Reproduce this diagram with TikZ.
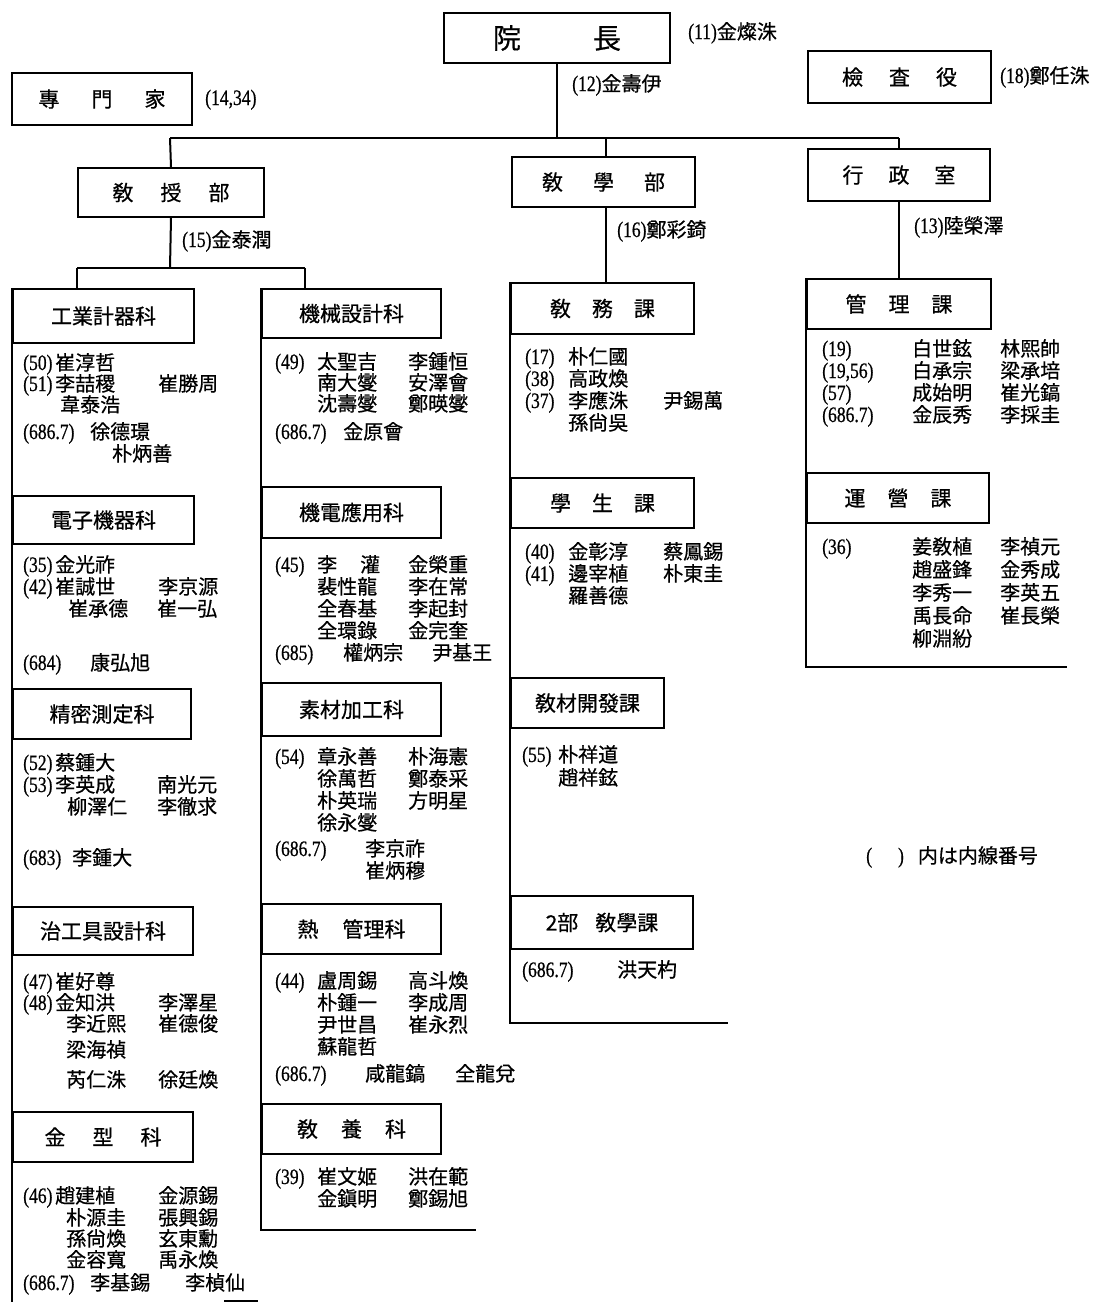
\documentclass[tikz,border=0pt]{standalone}
\usepackage{fontspec}
\setmainfont{Liberation Serif}
\newfontfamily\cjk{Noto Sans CJK JP}[FakeBold=0.6]
\newfontfamily\numf{Liberation Serif}[FakeStretch=0.8,FakeBold=0.6]
\newcounter{tn}
\newcommand\lab[3]{\stepcounter{tn}\node[lbl] (l\arabic{tn}) at (#1,{#2+7}) {#3};}
\newcommand\nm[3]{\stepcounter{tn}\node[nmt] (n\arabic{tn}) at (#1,{#2+7}) {#3};}
\newcommand\cj[1]{{\cjk\fontsize{20}{22}\selectfont #1}}
\begin{document}
\begin{tikzpicture}[x=1pt,y=-1pt,
  ln/.style={line width=2pt},
  ubox/.style={draw,line width=2pt,inner sep=0pt,anchor=north west,font=\cjk\fontsize{21}{24}\selectfont},
  lbl/.style={anchor=base west,inner sep=0pt,font=\numf\fontsize{22}{24}\selectfont},
  nmt/.style={anchor=base west,inner sep=0pt,font=\cjk\fontsize{20}{22}\selectfont}]
\useasboundingbox[fill=white] (0,0) rectangle (1119,1304);

% ---- top level boxes
\node[ubox,minimum width=226pt,minimum height=50pt,font=\cjk\fontsize{28}{30}\selectfont] (inch) at (443,12) {院\hspace{72pt}長};
\node[ubox,minimum width=180pt,minimum height=52pt] (senmon) at (11,72) {專\hspace{32pt}門\hspace{32pt}家};
\node[ubox,minimum width=183pt,minimum height=52pt] (kensa) at (807,50) {檢\hspace{26pt}査\hspace{26pt}役};
\node[ubox,minimum width=186pt,minimum height=49pt] (kyosu) at (77,167) {敎\hspace{27pt}授\hspace{27pt}部};
\node[ubox,minimum width=183pt,minimum height=50pt] (kyohak) at (511,156) {敎\hspace{30pt}學\hspace{30pt}部};
\node[ubox,minimum width=182pt,minimum height=52pt] (haeng) at (807,148) {行\hspace{25pt}政\hspace{25pt}室};

% ---- top labels
\lab{688}{32}{(11)\cj{金燦洙}}
\lab{572}{84}{(12)\cj{金壽伊}}
\lab{205}{98}{(14,34)}
\lab{1000}{76}{(18)\cj{鄭任洙}}
\lab{182}{240}{(15)\cj{金泰潤}}
\lab{617}{230}{(16)\cj{鄭彩錡}}
\lab{914}{226}{(13)\cj{陸榮澤}}

% ---- section boxes
\node[ubox,minimum width=181pt,minimum height=54pt] (a1) at (12,288) {工業計器科};
\node[ubox,minimum width=181pt,minimum height=48pt] (a2) at (12,495) {電子機器科};
\node[ubox,minimum width=178pt,minimum height=50pt] (a3) at (12,688) {精密測定科};
\node[ubox,minimum width=180pt,minimum height=48pt] (a4) at (12,906) {治工具設計科};
\node[ubox,minimum width=180pt,minimum height=50pt] (a5) at (12,1111) {金\hspace{27pt}型\hspace{27pt}科};

\node[ubox,minimum width=179pt,minimum height=49pt] (b1) at (261,288) {機械設計科};
\node[ubox,minimum width=179pt,minimum height=51pt] (b2) at (261,486) {機電應用科};
\node[ubox,minimum width=179pt,minimum height=53pt] (b3) at (261,682) {素材加工科};
\node[ubox,minimum width=179pt,minimum height=50pt] (b4) at (261,903) {熱\hspace{24pt}管理科};
\node[ubox,minimum width=179pt,minimum height=50pt] (b5) at (261,1103) {敎\hspace{23pt}養\hspace{23pt}科};

\node[ubox,minimum width=183pt,minimum height=51pt] (c1) at (510,282) {敎\hspace{21pt}務\hspace{21pt}課};
\node[ubox,minimum width=183pt,minimum height=50pt] (c2) at (510,477) {學\hspace{21pt}生\hspace{21pt}課};
\node[ubox,minimum width=153pt,minimum height=50pt] (c3) at (510,677) {敎材開發課};
\node[ubox,minimum width=182pt,minimum height=53pt] (c4) at (510,895) {2部\hspace{17pt}敎學課};

\node[ubox,minimum width=184pt,minimum height=50pt] (d1) at (806,278) {管\hspace{22pt}理\hspace{22pt}課};
\node[ubox,minimum width=182pt,minimum height=50pt] (d2) at (806,472) {運\hspace{22pt}營\hspace{22pt}課};

% ---- connectors
\coordinate (hbL) at (170,138);
\coordinate (hbM) at (606,138);
\coordinate (hbR) at (899,138);
\draw[ln] (hbL) -- (hbR);
\draw[ln] (inch.south) -- (inch.south |- hbL);
\draw[ln] (hbL) -- (kyosu.north);
\draw[ln] (hbM) -- (hbM |- kyohak.north);
\draw[ln] (hbR) -- (hbR |- haeng.north);
\coordinate (k2) at (170,268);
\coordinate (k2L) at (77,268);
\coordinate (k2R) at (305,268);
\draw[ln] (kyosu.south) -- (k2);
\draw[ln] (k2L) -- (k2R);
\draw[ln] (k2L) -- (k2L |- a1.north);
\draw[ln] (k2R) -- (k2R |- b1.north);
\draw[ln] (kyohak.south -| hbM) -- (hbM |- c1.north);
\draw[ln] (haeng.south -| hbR) -- (hbR |- d1.north);

% ---- column frames
\coordinate (aEnd) at (12,1302);
\coordinate (aF1) at (224,1301);
\coordinate (aF2) at (258,1301);
\draw[ln] (a1.north west) -- (aEnd);
\draw[ln] (aF1) -- (aF2);
\coordinate (bEnd) at (261,1230);
\coordinate (bEndR) at (476,1230);
\draw[ln] (b1.north west) -- (bEnd) -- (bEndR);
\coordinate (cEnd) at (510,1023);
\coordinate (cEndR) at (728,1023);
\draw[ln] (c1.north west) -- (cEnd) -- (cEndR);
\coordinate (dEnd) at (806,667);
\coordinate (dEndR) at (1067,667);
\draw[ln] (d1.north west) -- (dEnd) -- (dEndR);

% ---- column 1 text
\lab{23}{363}{(50)} \nm{55}{363}{崔淳哲}
\lab{23}{384}{(51)} \nm{55}{384}{李喆稷} \nm{158}{384}{崔勝周}
\nm{60}{405}{韋泰浩}
\lab{23}{432}{(686.7)} \nm{90}{432}{徐德璟}
\nm{112}{454}{朴炳善}

\lab{23}{565}{(35)} \nm{55}{565}{金光祚}
\lab{23}{587}{(42)} \nm{55}{587}{崔誠世} \nm{158}{587}{李京源}
\nm{68}{609}{崔承德} \nm{157}{609}{崔一弘}
\lab{23}{663}{(684)} \nm{90}{663}{康弘旭}

\lab{23}{763}{(52)} \nm{55}{763}{蔡鍾大}
\lab{23}{785}{(53)} \nm{55}{785}{李英成} \nm{157}{785}{南光元}
\nm{67}{807}{柳澤仁} \nm{157}{807}{李徹求}
\lab{23}{858}{(683)} \nm{72}{858}{李鍾大}

\lab{23}{982}{(47)} \nm{55}{982}{崔好尊}
\lab{23}{1003}{(48)} \nm{55}{1003}{金知洪} \nm{158}{1003}{李澤星}
\nm{66}{1024}{李近熙} \nm{158}{1024}{崔德俊}
\nm{66}{1050}{梁海禎}
\nm{66}{1080}{芮仁洙} \nm{158}{1080}{徐廷煥}

\lab{23}{1196}{(46)} \nm{55}{1196}{趙建植} \nm{158}{1196}{金源錫}
\nm{66}{1218}{朴源圭} \nm{158}{1218}{張興錫}
\nm{66}{1239}{孫尙煥} \nm{158}{1239}{玄東勳}
\nm{66}{1260}{金容寬} \nm{158}{1260}{禹永煥}
\lab{23}{1283}{(686.7)} \nm{90}{1283}{李基錫} \nm{185}{1283}{李楨仙}

% ---- column 2 text
\lab{275}{362}{(49)} \nm{317}{362}{太聖吉} \nm{408}{362}{李鍾恒}
\nm{317}{383}{南大燮} \nm{408}{383}{安澤會}
\nm{317}{404}{沈壽燮} \nm{408}{404}{鄭暎燮}
\lab{275}{432}{(686.7)} \nm{343}{432}{金原會}

\lab{275}{565}{(45)} \nm{317}{565}{李} \nm{360}{565}{灌} \nm{408}{565}{金榮重}
\nm{317}{587}{裴性龍} \nm{408}{587}{李在常}
\nm{317}{609}{全春基} \nm{408}{609}{李起封}
\nm{317}{631}{全環錄} \nm{408}{631}{金完奎}
\lab{275}{653}{(685)} \nm{343}{653}{權炳宗} \nm{432}{653}{尹基王}

\lab{275}{757}{(54)} \nm{317}{757}{章永善} \nm{408}{757}{朴海憲}
\nm{317}{779}{徐萬哲} \nm{408}{779}{鄭泰采}
\nm{317}{801}{朴英瑞} \nm{408}{801}{方明星}
\nm{317}{823}{徐永燮}
\lab{275}{849}{(686.7)} \nm{365}{849}{李京祚}
\nm{365}{871}{崔炳穆}

\lab{275}{981}{(44)} \nm{317}{981}{盧周錫} \nm{408}{981}{高斗煥}
\nm{317}{1003}{朴鍾一} \nm{408}{1003}{李成周}
\nm{317}{1025}{尹世昌} \nm{408}{1025}{崔永烈}
\nm{317}{1047}{蘇龍哲}
\lab{275}{1074}{(686.7)} \nm{365}{1074}{咸龍鎬} \nm{455}{1074}{全龍兌}

\lab{275}{1177}{(39)} \nm{317}{1177}{崔文姬} \nm{408}{1177}{洪在範}
\nm{317}{1199}{金鎭明} \nm{408}{1199}{鄭錫旭}

% ---- column 3 text
\lab{525}{357}{(17)} \nm{568}{357}{朴仁國}
\lab{525}{379}{(38)} \nm{568}{379}{高政煥}
\lab{525}{401}{(37)} \nm{568}{401}{李應洙} \nm{663}{401}{尹錫萬}
\nm{568}{423}{孫尙吳}

\lab{525}{552}{(40)} \nm{568}{552}{金彰淳} \nm{663}{552}{蔡鳳錫}
\lab{525}{574}{(41)} \nm{568}{574}{邊宰植} \nm{663}{574}{朴東圭}
\nm{568}{596}{羅善德}

\lab{522}{755}{(55)} \nm{558}{755}{朴祥道}
\nm{558}{778}{趙祥鉉}

\lab{522}{970}{(686.7)} \nm{617}{970}{洪天杓}

% ---- column 4 text
\lab{822}{349}{(19)} \nm{912}{349}{白世鉉} \nm{1000}{349}{林熙帥}
\lab{822}{371}{(19,56)} \nm{912}{371}{白承宗} \nm{1000}{371}{梁承培}
\lab{822}{393}{(57)} \nm{912}{393}{成始明} \nm{1000}{393}{崔光鎬}
\lab{822}{415}{(686.7)} \nm{912}{415}{金辰秀} \nm{1000}{415}{李採圭}

\lab{822}{547}{(36)} \nm{912}{547}{姜敎植} \nm{1000}{547}{李禎元}
\nm{912}{570}{趙盛鋒} \nm{1000}{570}{金秀成}
\nm{912}{593}{李秀一} \nm{1000}{593}{李英五}
\nm{912}{616}{禹長命} \nm{1000}{616}{崔長榮}
\nm{912}{639}{柳淵紛}

% ---- note
\lab{866}{856}{(\hspace{26pt})\hspace{14pt}\cj{内は内線番号}}
\end{tikzpicture}
\end{document}
